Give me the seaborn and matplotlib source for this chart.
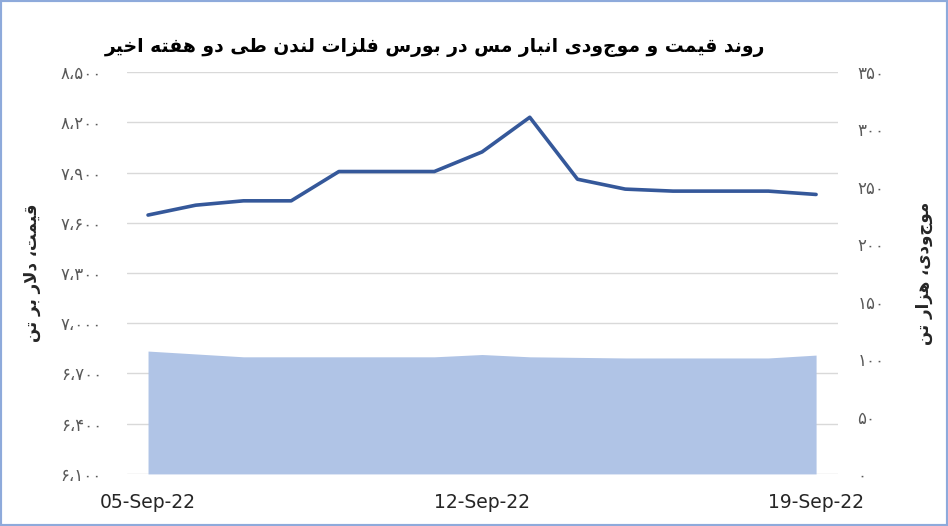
import numpy as np
import matplotlib.pyplot as plt
import seaborn as sns
from matplotlib.patches import Rectangle

# === Data ===
dates = ["2022-09-05", "2022-09-06", "2022-09-07", "2022-09-08", "2022-09-09",
         "2022-09-10", "2022-09-11", "2022-09-12", "2022-09-13", "2022-09-14",
         "2022-09-15", "2022-09-16", "2022-09-17", "2022-09-18", "2022-09-19"]
price = [7646, 7705, 7731, 7731, 7906, 7906, 7906, 8023, 8230, 7860,
         7801, 7789, 7789, 7789, 7769]
stock = [107, 104.5, 102, 102, 102, 102, 102, 104, 102, 101.5,
         101, 101, 101, 101, 103.5]
price_ticks = [6100, 6400, 6700, 7000, 7300, 7600, 7900, 8200, 8500]
stock_ticks = [0, 50, 100, 150, 200, 250, 300, 350]
date_tick_pos = [0, 7, 14]
date_tick_labels = ["05-Sep-22", "12-Sep-22", "19-Sep-22"]

title = "روند قیمت و موجودی انبار مس در بورس فلزات لندن طی دو هفته اخیر"
left_label = "قیمت، دلار بر تن"
right_label = "موجودی، هزار تن"

# === Minimal Persian shaping (matplotlib has no shaping of its own) ===
FORMS = {
    # isolated, final, initial, medial
    "ا": ("\uFE8D", "\uFE8E", None, None),
    "ب": ("\uFE8F", "\uFE90", "\uFE91", "\uFE92"),
    "ت": ("\uFE95", "\uFE96", "\uFE97", "\uFE98"),
    "خ": ("\uFEA5", "\uFEA6", "\uFEA7", "\uFEA8"),
    "د": ("\uFEA9", "\uFEAA", None, None),
    "ر": ("\uFEAD", "\uFEAE", None, None),
    "ز": ("\uFEAF", "\uFEB0", None, None),
    "س": ("\uFEB1", "\uFEB2", "\uFEB3", "\uFEB4"),
    "ط": ("\uFEC1", "\uFEC2", "\uFEC3", "\uFEC4"),
    "ف": ("\uFED1", "\uFED2", "\uFED3", "\uFED4"),
    "ق": ("\uFED5", "\uFED6", "\uFED7", "\uFED8"),
    "ل": ("\uFEDD", "\uFEDE", "\uFEDF", "\uFEE0"),
    "م": ("\uFEE1", "\uFEE2", "\uFEE3", "\uFEE4"),
    "ن": ("\uFEE5", "\uFEE6", "\uFEE7", "\uFEE8"),
    "ه": ("\uFEE9", "\uFEEA", "\uFEEB", "\uFEEC"),
    "و": ("\uFEED", "\uFEEE", None, None),
    "ی": ("\uFEEF", "\uFEF0", "\uFEF3", "\uFEF4"),
}


def dual(c):
    return c in FORMS and FORMS[c][2] is not None


def shape(text):
    # lam + alef ligature
    chars = []
    i = 0
    while i < len(text):
        if text[i] == "ل" and i + 1 < len(text) and text[i + 1] == "ا":
            chars.append("LA")
            i += 2
        else:
            chars.append(text[i])
            i += 1
    out = []
    for i, c in enumerate(chars):
        prev = chars[i - 1] if i > 0 else ""
        nxt = chars[i + 1] if i + 1 < len(chars) else ""
        join_prev = dual(prev) and (c in FORMS or c == "LA")
        if c == "LA":
            out.append("\uFEFC" if join_prev else "\uFEFB")
            continue
        if c not in FORMS:
            out.append(c)
            continue
        join_next = dual(c) and (nxt in FORMS or nxt == "LA")
        iso, fin, ini, med = FORMS[c]
        if join_prev and join_next:
            out.append(med)
        elif join_prev:
            out.append(fin)
        elif join_next:
            out.append(ini)
        else:
            out.append(iso)
    return "".join(out)[::-1]


def fa_num(v):
    digits = "۰۱۲۳۴۵۶۷۸۹"
    s = f"{v:,}"
    return "".join(digits[int(ch)] if ch.isdigit() else "،" for ch in s)


# === Style ===
sns.set_theme(style="white")
plt.rcParams["font.family"] = ["DejaVu Sans"]

fig = plt.figure(figsize=(9.48, 5.26), dpi=100)
ax = fig.add_axes([0.134, 0.099, 0.750, 0.764])
ax2 = ax.twinx()

x = np.arange(len(dates))

ax2.fill_between(x, stock, 0, color="#b0c4e6", linewidth=0)
sns.lineplot(x=x, y=price, ax=ax, color="#35589a", linewidth=2.6)

ax.set_xlim(-0.44, 14.46)
ax.set_ylim(6100, 8500)
ax2.set_ylim(0, 350)

ax.set_yticks(price_ticks)
ax.set_yticklabels([fa_num(v) for v in price_ticks])
ax2.set_yticks(stock_ticks)
ax2.set_yticklabels([fa_num(v) for v in stock_ticks])
ax.set_xticks(date_tick_pos)
ax.set_xticklabels(date_tick_labels, fontsize=13.5, color="#262626")

ax.tick_params(axis="y", length=0, labelsize=12, labelcolor="#595959", pad=18)
ax2.tick_params(axis="y", length=0, labelsize=12, labelcolor="#595959", pad=14)
ax.tick_params(axis="x", length=0, pad=14)

ax.grid(axis="y", color="#d9d9d9", linewidth=1)
ax.grid(axis="x", visible=False)
for a in (ax, ax2):
    for s in a.spines.values():
        s.set_visible(False)

ax.set_ylabel(shape(left_label), fontsize=12, fontweight="bold", color="#262626", labelpad=14)
ax2.set_ylabel(shape(right_label), fontsize=12, fontweight="bold", color="#262626",
               rotation=90, labelpad=22)

fig.text(0.459, 0.91, shape(title), fontsize=13.5, fontweight="bold", color="#000000",
         ha="center", va="center")

fig.patches.append(Rectangle((0, 0), 1, 1, transform=fig.transFigure, fill=False,
                             edgecolor="#8eaadb", linewidth=3))

fig.savefig("out.png", dpi=100)
